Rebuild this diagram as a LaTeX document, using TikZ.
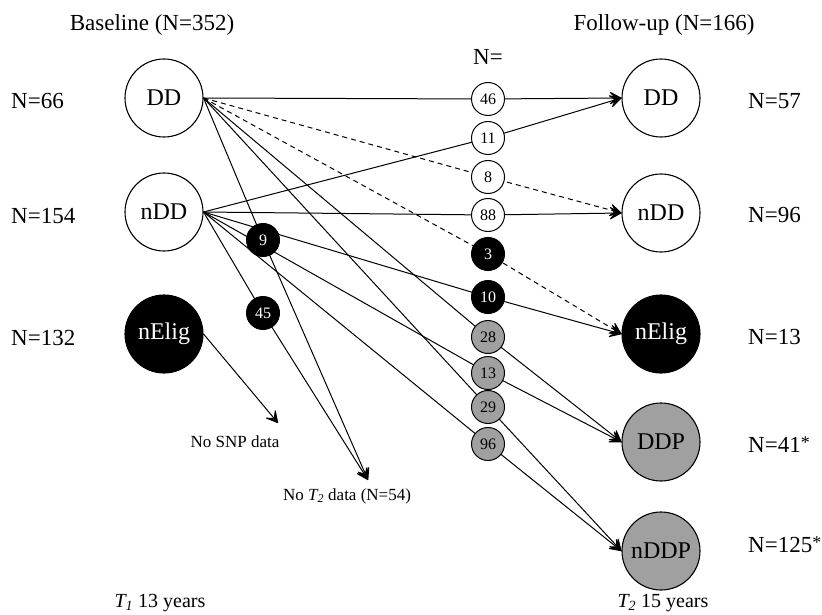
\documentclass[tikz,border=0pt]{standalone}
\usepackage{fontspec}
\setmainfont{Liberation Serif}
\usetikzlibrary{arrows.meta,backgrounds}
\definecolor{gfill}{RGB}{160,160,160}
\newcommand{\smast}{\raisebox{4pt}{\fontsize{18}{20}\selectfont*}}
\begin{document}
\begin{tikzpicture}[x=1pt,y=-1pt,
  bigc/.style={circle,draw=black,line width=1.1pt,minimum size=78pt,inner sep=0pt,font=\fontsize{24}{26}\selectfont},
  smc/.style={circle,draw=black,line width=1pt,minimum size=33pt,inner sep=0pt,fill=white,font=\fontsize{16}{18}\selectfont},
  smb/.style={smc,fill=black,text=white},
  smg/.style={smc,fill=gfill},
  lbl/.style={inner sep=0pt,font=\fontsize{23}{26}\selectfont},
  sml/.style={inner sep=0pt,font=\fontsize{17}{20}\selectfont},
  conn/.style={line width=1pt},
  arr/.style={conn,-{Stealth[length=14pt,width=15pt,inset=7pt,round]}},
  dsh/.style={dash pattern=on 5pt off 4pt}
]
\useasboundingbox (0,0) rectangle (822,615);
% headers
\node[lbl] (hbase) at (152,25) {Baseline (N=352)};
\node[lbl] (hfol) at (664,25) {Follow-up (N=166)};
\node[lbl] (hN) at (488,57) {N=};
% big circles
\node[bigc] (lDD) at (164,98) {DD};
\node[bigc] (lnDD) at (164,212) {nDD};
\node[bigc,fill=black,text=white] (lnElig) at (164,334) {nElig};
\node[bigc] (rDD) at (661,98) {DD};
\node[bigc] (rnDD) at (661,213) {nDD};
\node[bigc,fill=black,text=white] (rnElig) at (661,334) {nElig};
\node[bigc,fill=gfill] (rDDP) at (661,442) {DDP};
\node[bigc,fill=gfill] (rnDDP) at (661,551) {nDDP};
% side labels
\node[lbl,anchor=west] (nl1) at (11,101) {N=66};
\node[lbl,anchor=west] (nl2) at (11,216) {N=154};
\node[lbl,anchor=west] (nl3) at (11,338) {N=132};
\node[lbl,anchor=west] (nr1) at (748,101) {N=57};
\node[lbl,anchor=west] (nr2) at (748,215) {N=96};
\node[lbl,anchor=west] (nr3) at (748,337) {N=13};
\node[lbl,anchor=west] (nr4) at (748,445) {N=41\smast};
\node[lbl,anchor=west] (nr5) at (748,545) {N=125\smast};
% middle circles
\node[smc] (m46) at (488,99) {46};
\node[smc] (m11) at (488,138) {11};
\node[smc] (m8) at (488,177) {8};
\node[smc] (m88) at (488,215) {88};
\node[smb] (m3) at (488,254) {3};
\node[smb] (m10) at (488,297) {10};
\node[smg] (m28) at (488,337) {28};
\node[smg] (m13) at (488,373) {13};
\node[smg] (m29) at (488,407) {29};
\node[smg] (m96) at (488,444) {96};
\node[smb] (c9) at (263,240) {9};
\node[smb] (c45) at (263,313) {45};
% drop-out labels
\coordinate (snp) at (278,423);
\coordinate (not2) at (368,480);
\node[sml] (tsnp) at (235,442) {No SNP data};
\node[sml] (tnot2) at (347,496) {No {\itshape T}\textsubscript{\itshape 2} data (N=54)};
% bottom labels
\node[inner sep=0pt,font=\fontsize{20}{22}\selectfont] (t1) at (160,603) {{\itshape T}\textsubscript{\itshape 1} 13 years};
\node[inner sep=0pt,font=\fontsize{20}{22}\selectfont] (t2) at (663,603) {{\itshape T}\textsubscript{\itshape 2} 15 years};
% connectors
\begin{scope}[on background layer]
\draw[arr] (lDD.east) -- (m46.center) -- (rDD.west);
\draw[arr,dsh] (lDD.east) -- (m8.center) -- (rnDD.west);
\draw[arr,dsh] (lDD.east) -- (m3.center) -- (rnElig.west);
\draw[arr] (lDD.east) -- (m28.center) -- (rDDP.west);
\draw[arr] (lDD.east) -- (m29.center) -- (rnDDP.west);
\draw[arr] (lDD.east) -- (c9.center) -- (not2);
\draw[arr] (lnDD.east) -- (m11.center) -- (rDD.west);
\draw[arr] (lnDD.east) -- (m88.center) -- (rnDD.west);
\draw[arr] (lnDD.east) -- (m10.center) -- (rnElig.west);
\draw[arr] (lnDD.east) -- (m13.center) -- (rDDP.west);
\draw[arr] (lnDD.east) -- (m96.center) -- (rnDDP.west);
\draw[arr] (lnDD.east) -- (c45.center) -- (not2);
\draw[arr] (lnElig.east) -- (snp);
\end{scope}
\end{tikzpicture}
\end{document}
